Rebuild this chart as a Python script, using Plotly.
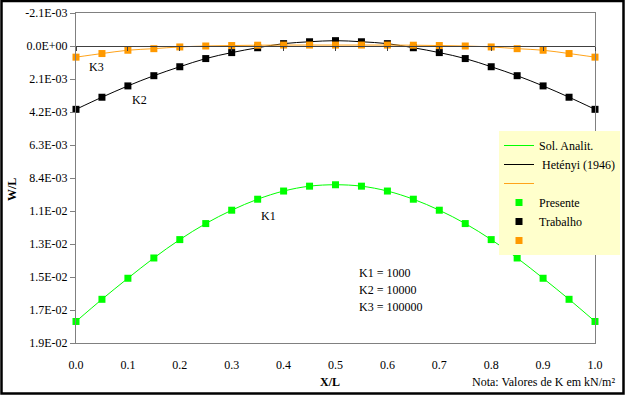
import plotly.graph_objects as go

# ---- data ----
x_vals = [0.0, 0.05, 0.1, 0.15, 0.2, 0.25, 0.3, 0.35, 0.4, 0.45, 0.5,
          0.55, 0.6, 0.65, 0.7, 0.75, 0.8, 0.85, 0.9, 0.95, 1.0]
k1_vals = [0.01753, 0.01612, 0.01478, 0.01349, 0.01232, 0.01130, 0.01045, 0.00975, 0.00923, 0.00892, 0.00883,
           0.00892, 0.00923, 0.00975, 0.01045, 0.01130, 0.01232, 0.01349, 0.01478, 0.01612, 0.01753]
k2_vals = [0.00403, 0.00326, 0.00254, 0.00189, 0.00132, 0.00080, 0.00042, 0.00011, -0.00015, -0.00027, -0.00034,
           -0.00027, -0.00015, 0.00011, 0.00042, 0.00080, 0.00132, 0.00189, 0.00254, 0.00326, 0.00403]
k3_vals = [0.00071, 0.00048, 0.00027, 0.00017, 0.00006, 0.00000, -0.00003, -0.00005, -0.00006, -0.00006, -0.00006,
           -0.00006, -0.00006, -0.00005, -0.00003, 0.00000, 0.00006, 0.00017, 0.00027, 0.00048, 0.00071]

y_tickvals = [-0.0021, 0.0, 0.0021, 0.0042, 0.0063, 0.0084, 0.0105, 0.0126, 0.0147, 0.0168, 0.0189]
y_ticktext = ["-2.1E-03", "0.0E+00", "2.1E-03", "4.2E-03", "6.3E-03", "8.4E-03",
              "1.1E-02", "1.3E-02", "1.5E-02", "1.7E-02", "1.9E-02"]
x_tickvals = [0.0, 0.1, 0.2, 0.3, 0.4, 0.5, 0.6, 0.7, 0.8, 0.9, 1.0]

y_min, y_max = -0.0021, 0.0189

GREEN = "#00FF00"
BLACK = "#000000"
ORANGE = "#FF9900"
FONT = "'Liberation Serif', 'Times New Roman', 'DejaVu Serif', serif"
FS = 12

W, H = 625, 395
ML, MR, MT, MB = 76, 30, 13, 52
PW, PH = W - ML - MR, H - MT - MB

fig = go.Figure()

# lines (analytical solution)
for vals, col, nm in [(k1_vals, GREEN, "Sol. Analit."),
                      (k2_vals, BLACK, " Hetényi (1946)"),
                      (k3_vals, "#FFA31A", " ")]:
    fig.add_trace(go.Scatter(x=x_vals, y=vals, mode="lines", name=nm,
                             line=dict(color=col, width=1, shape="spline"),
                             cliponaxis=False))
# markers (present work)
for vals, col, nm in [(k1_vals, GREEN, "Presente"),
                      (k2_vals, BLACK, "Trabalho"),
                      (k3_vals, ORANGE, " ")]:
    fig.add_trace(go.Scatter(x=x_vals, y=vals, mode="markers", name=nm,
                             marker=dict(color=col, symbol="square", size=7,
                                         line=dict(width=0)),
                             cliponaxis=False))

# invisible trace on the zero-crossing axis (tick marks at y=0)
fig.add_trace(go.Scatter(x=[0, 1], y=[0, 0], mode="markers", xaxis="x2",
                         marker=dict(opacity=0), showlegend=False, hoverinfo="skip"))

zero_pos = (y_max - 0.0) / (y_max - y_min)

fig.update_layout(
    width=W, height=H,
    margin=dict(l=ML, r=MR, t=MT, b=MB, autoexpand=False),
    paper_bgcolor="white", plot_bgcolor="white",
    font=dict(family=FONT, size=FS, color="black"),
    showlegend=True,
    legend=dict(x=(499 - ML) / PW, y=(H - MB - 131) / PH, xanchor="left", yanchor="top",
                bgcolor="#FFFFCC", borderwidth=0, font=dict(family=FONT, size=FS),
                itemwidth=30, tracegroupgap=0),
    xaxis=dict(range=[0, 1], tickvals=x_tickvals, tickformat=".1f",
               showgrid=False, zeroline=False, showline=True, linecolor="#808080",
               linewidth=1, mirror=True, ticks="", ticklabelstandoff=11,
               tickfont=dict(family=FONT, size=FS)),
    xaxis2=dict(range=[0, 1], overlaying="x", anchor="free", position=zero_pos,
                side="bottom", tickvals=x_tickvals, showticklabels=False,
                showgrid=False, zeroline=False, showline=True, linecolor="#404040",
                linewidth=1, ticks="outside", ticklen=4, tickcolor="#404040"),
    yaxis=dict(range=[y_max, y_min], tickvals=y_tickvals, ticktext=y_ticktext,
               showgrid=False, zeroline=False, showline=True, linecolor="#808080",
               linewidth=1, mirror=True, ticks="outside", ticklen=5, tickcolor="#808080",
               tickfont=dict(family=FONT, size=FS)),
)

annots = [
    dict(x=0.04, y=0.00134, text="K3", xref="x", yref="y"),
    dict(x=0.123, y=0.00344, text="K2", xref="x", yref="y"),
    dict(x=0.37, y=0.01082, text="K1", xref="x", yref="y"),
]
for a in annots:
    fig.add_annotation(**a, showarrow=False, font=dict(family=FONT, size=FS))

for i, t in enumerate(["K1 = 1000", "K2 = 10000", "K3 = 100000"]):
    fig.add_annotation(x=(357 - ML) / PW, y=(H - MB - (273 + 17 * i)) / PH,
                       xref="paper", yref="paper", text=t, showarrow=False,
                       xanchor="left", yanchor="middle", font=dict(family=FONT, size=FS))

fig.add_annotation(x=(330 - ML) / PW, y=(H - MB - 382) / PH, xref="paper", yref="paper",
                   text="<b>X/L</b>", showarrow=False, yanchor="middle",
                   font=dict(family=FONT, size=FS))
fig.add_annotation(x=(617 - ML) / PW, y=(H - MB - 382) / PH, xref="paper", yref="paper",
                   text="Nota: Valores de K em kN/m²", showarrow=False,
                   xanchor="right", yanchor="middle", font=dict(family=FONT, size=FS))
fig.add_annotation(x=(12 - ML) / PW, y=(H - MB - 190) / PH, xref="paper", yref="paper",
                   text="<b>W/L</b>", showarrow=False, textangle=-90,
                   xanchor="center", yanchor="middle", font=dict(family=FONT, size=FS))

# outer chart frame
fig.add_shape(type="rect", xref="paper", yref="paper",
              x0=(1.5 - ML) / PW, x1=(623.5 - ML) / PW,
              y0=(H - MB - 393.5) / PH, y1=(H - MB - 1) / PH,
              line=dict(color="black", width=2.5), fillcolor="rgba(0,0,0,0)", layer="above")

fig.write_html("out.html")
